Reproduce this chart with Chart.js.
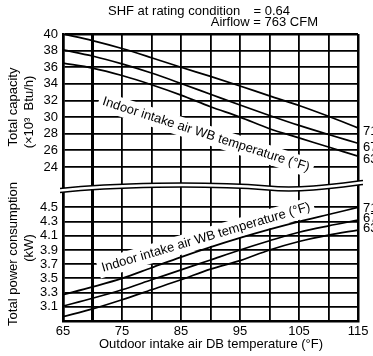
<!DOCTYPE html>
<html>
<head>
<meta charset="utf-8">
<title>Capacity and power consumption</title>
<script src="https://cdn.jsdelivr.net/npm/chart.js@4.4.1/dist/chart.umd.min.js"></script>
<style>
  html, body { margin: 0; padding: 0; background: #fff; }
  canvas { display: block; }
</style>
</head>
<body>
<canvas id="perf" width="373" height="356"></canvas>
<script>
// outdoor intake air dry-bulb temperature (°F)
const outdoorTemps = [65, 70, 75, 80, 85, 90, 95, 100, 105, 110, 115];

// total capacity (x10^3 Btu/h) for each indoor wet-bulb temperature
const capacity71 = [40.0, 39.2, 38.25, 37.15, 36.0, 34.9, 33.75, 32.55, 31.4, 30.1, 28.7];
const capacity67 = [38.1, 37.35, 36.4, 35.3, 34.05, 32.75, 31.45, 30.2, 29.0, 27.9, 26.85];
const capacity63 = [36.5, 35.9, 35.0, 33.9, 32.65, 31.25, 30.0, 28.6, 27.5, 26.4, 25.3];

// total power consumption (kW)
const power71 = [3.27, 3.38, 3.50, 3.65, 3.80, 3.94, 4.07, 4.19, 4.30, 4.40, 4.50];
const power67 = [3.11, 3.22, 3.34, 3.48, 3.62, 3.76, 3.90, 4.03, 4.15, 4.24, 4.32];
const power63 = [2.96, 3.07, 3.20, 3.34, 3.48, 3.63, 3.75, 3.90, 4.02, 4.11, 4.18];

const wbLabels = ['71', '67', '63'];
const capacityTicks = [24, 26, 28, 30, 32, 34, 36, 38, 40];
const powerTicks = [3.1, 3.3, 3.5, 3.7, 3.9, 4.1, 4.3, 4.5];
const xLabelTicks = [65, 75, 85, 95, 105, 115];

const FAMILY = '"Liberation Sans", Arial, Helvetica, sans-serif';
const font = { family: FAMILY, size: 13 };
const GRID_W = 1.8;

const toPoints = (ys) => outdoorTemps.map((x, i) => ({ x, y: ys[i] }));
const curve = (ys, axis) => ({
  data: toPoints(ys),
  yAxisID: axis,
  borderColor: '#000',
  borderWidth: 1.7,
  pointRadius: 0,
  cubicInterpolationMode: 'monotone',
  fill: false
});

const wbText = 'Indoor intake air WB temperature (°F)';
// centre x, centre y, angle in degrees
const wbPlacement = [[206, 134.5, 17.9], [206, 237.5, -16.5]];

// break marks, axis titles and curve labels
const annotations = {
  id: 'annotations',
  beforeDatasetsDraw(chart) {
    const ctx = chart.ctx;
    ctx.save();

    // white backing behind the slanted WB labels
    ctx.font = `13px ${FAMILY}`;
    const w = ctx.measureText(wbText).width;
    wbPlacement.forEach(([cx, cy, deg]) => {
      ctx.save();
      ctx.translate(cx, cy);
      ctx.rotate(deg * Math.PI / 180);
      ctx.fillStyle = '#fff';
      ctx.fillRect(-w / 2 - 4, -9.5, w + 8, 19);
      ctx.restore();
    });

    // wavy break between the two panels
    const wave = (dy) => {
      ctx.beginPath();
      ctx.moveTo(60, 188.5 + dy);
      ctx.bezierCurveTo(110, 183 + dy, 200, 181 + dy, 268, 186 + dy);
      ctx.bezierCurveTo(300, 189 + dy, 335, 184 + dy, 363, 180.5 + dy);
    };
    wave(2);
    ctx.strokeStyle = '#fff';
    ctx.lineWidth = 4;
    ctx.stroke();
    ctx.strokeStyle = '#000';
    ctx.lineWidth = 1.5;
    wave(0);
    ctx.stroke();
    wave(4);
    ctx.stroke();
    ctx.restore();
  },
  afterDatasetsDraw(chart) {
    const ctx = chart.ctx;
    ctx.save();
    ctx.fillStyle = '#000';
    ctx.font = `13px ${FAMILY}`;
    ctx.textBaseline = 'middle';

    wbPlacement.forEach(([cx, cy, deg]) => {
      ctx.save();
      ctx.translate(cx, cy);
      ctx.rotate(deg * Math.PI / 180);
      ctx.textAlign = 'center';
      ctx.fillText(wbText, 0, 0);
      ctx.restore();
    });

    // WB temperature at the end of each curve
    ctx.textAlign = 'left';
    [131.5, 147, 159.5].forEach((y, i) => ctx.fillText(wbLabels[i], 363, y));
    [208.5, 218.5, 228].forEach((y, i) => ctx.fillText(wbLabels[i], 363, y));

    // header
    ctx.fillText('SHF at rating condition', 108, 11);
    ctx.textAlign = 'right';
    ctx.fillText('= 0.64', 290, 11);
    ctx.fillText('Airflow = 763 CFM', 318, 22);

    // x axis title
    ctx.textAlign = 'center';
    ctx.fillText('Outdoor intake air DB temperature (°F)', 211, 344);

    // y axis titles
    const vtext = (str, x, y) => {
      ctx.save();
      ctx.translate(x, y);
      ctx.rotate(-Math.PI / 2);
      ctx.fillText(str, 0, 0);
      ctx.restore();
    };
    vtext('Total capacity', 13, 107);
    vtext('(×10³  Btu/h)', 29, 112);
    vtext('Total power consumption', 13, 254);
    vtext('(kW)', 29, 248);
    ctx.restore();
  }
};

const yScale = (ticks, min, max, weight, fmt, topWidth) => ({
  type: 'linear',
  position: 'left',
  stack: 'panels',
  stackWeight: weight,
  min,
  max,
  afterFit: (s) => { s.width = 63; },
  afterBuildTicks: (s) => { s.ticks = ticks.map((v) => ({ value: v })); },
  ticks: { font, color: '#000', padding: 5, autoSkip: false, callback: fmt },
  grid: {
    color: '#000',
    drawTicks: false,
    lineWidth: (c) => (c.tick && c.tick.value === max ? topWidth : GRID_W)
  },
  border: { color: '#000', width: 2.5 }
});

new Chart(document.getElementById('perf'), {
  type: 'line',
  data: {
    datasets: [
      curve(capacity71, 'yCap'),
      curve(capacity67, 'yCap'),
      curve(capacity63, 'yCap'),
      curve(power71, 'yPow'),
      curve(power67, 'yPow'),
      curve(power63, 'yPow')
    ]
  },
  options: {
    responsive: false,
    animation: false,
    layout: { padding: { top: 34, right: 15, left: 0, bottom: 0 } },
    plugins: { legend: { display: false }, tooltip: { enabled: false } },
    scales: {
      x: {
        type: 'linear',
        min: 65,
        max: 115,
        afterFit: (s) => { s.height = 35; },
        afterBuildTicks: (s) => { s.ticks = outdoorTemps.map((v) => ({ value: v })); },
        ticks: {
          font,
          color: '#000',
          padding: 3,
          maxRotation: 0,
          autoSkip: false,
          callback: (v) => (xLabelTicks.includes(v) ? String(v) : '')
        },
        grid: {
          color: '#000',
          drawTicks: false,
          lineWidth: (c) => {
            const v = c.tick && c.tick.value;
            if (v === 70) return 3;
            if (v === 65 || v === 115) return 2.5;
            return GRID_W;
          }
        },
        border: { color: '#000', width: 2.5 }
      },
      yPow: yScale(powerTicks, 2.9, 4.773, 133, (v) => v.toFixed(1), GRID_W),
      yCap: yScale(capacityTicks, 21.47, 40, 154, (v) => String(v), 2.5)
    }
  },
  plugins: [annotations]
});
</script>
</body>
</html>
